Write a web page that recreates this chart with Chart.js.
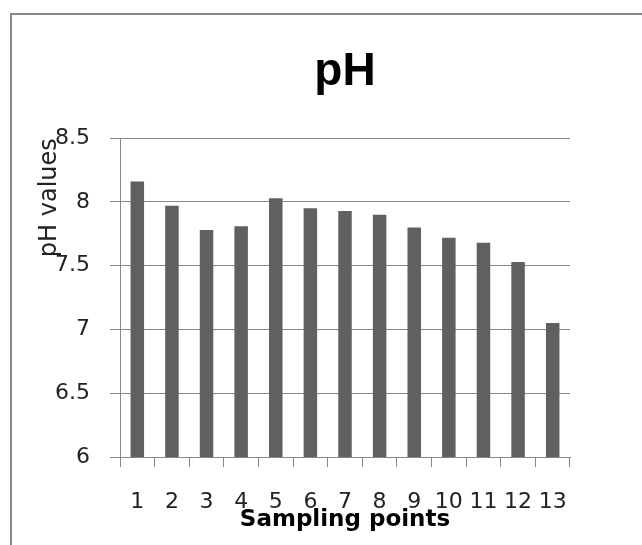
<!DOCTYPE html>
<html>
<head>
<meta charset="utf-8">
<title>pH</title>
<script src="https://cdn.jsdelivr.net/npm/chart.js@4/dist/chart.umd.min.js"></script>
<style>
  html, body { margin: 0; padding: 0; background: #fff; overflow: hidden; }
  #frame {
    position: absolute; left: 10px; top: 13px;
    width: 700px; height: 600px;
    border: 2px solid #888;
  }
  #chart { position: absolute; left: 0; top: 0; }
</style>
</head>
<body>
<div id="frame"></div>
<canvas id="chart" width="642" height="545"></canvas>
<script>
// Sampling points and measured pH
const samplingPoints = ['1', '2', '3', '4', '5', '6', '7', '8', '9', '10', '11', '12', '13'];
const phValues = [8.16, 7.97, 7.78, 7.81, 8.03, 7.95, 7.93, 7.90, 7.80, 7.72, 7.68, 7.53, 7.05];
const yMin = 6;
const yMax = 8.5;
const yStep = 0.5;

const lineGray = '#888888';
const barGray = '#606060';
const textColor = '#222222';

new Chart(document.getElementById('chart'), {
    type: 'bar',
    data: {
        labels: samplingPoints,
        datasets: [{
            label: 'pH',
            data: phValues,
            backgroundColor: barGray,
            borderWidth: 0,
            barPercentage: 0.39,
            categoryPercentage: 1
        }]
    },
    options: {
        responsive: false,
        animation: false,
        layout: { padding: { left: 0, right: 72, top: 0, bottom: 0 } },
        plugins: {
            legend: { display: false },
            tooltip: { enabled: false },
            title: {
                display: true,
                text: 'pH',
                fullSize: false,
                color: '#000',
                font: { family: "'Liberation Sans', Arial, sans-serif", size: 46, weight: 'bold' },
                padding: { top: 45, bottom: 38 }
            }
        },
        scales: {
            x: {
                grid: {
                    offset: true,
                    drawOnChartArea: false,
                    drawTicks: true,
                    tickLength: 10,
                    tickColor: lineGray,
                    lineWidth: 1
                },
                border: { color: lineGray, width: 1 },
                ticks: {
                    color: textColor,
                    padding: 22,
                    maxRotation: 0,
                    autoSkip: false,
                    font: { family: "'DejaVu Sans', sans-serif", size: 22 }
                },
                title: {
                    display: true,
                    text: 'Sampling points',
                    color: '#000',
                    font: { family: "'DejaVu Sans', sans-serif", size: 23, weight: 'bold' },
                    padding: { top: 0, bottom: 11 }
                },
                afterFit: function(scale) { scale.height = 88; }
            },
            y: {
                min: yMin,
                max: yMax,
                ticks: {
                    stepSize: yStep,
                    color: textColor,
                    padding: 20,
                    font: { family: "'DejaVu Sans', sans-serif", size: 22 },
                    // 8 not 8.0, 7.5 stays 7.5
                    callback: function(v) { return String(Math.round(v * 10) / 10); }
                },
                grid: {
                    color: lineGray,
                    lineWidth: 1,
                    tickLength: 10,
                    tickColor: lineGray
                },
                border: { color: lineGray, width: 1 },
                title: {
                    display: true,
                    text: 'pH values',
                    align: 'end',
                    color: textColor,
                    font: { family: "'DejaVu Sans', sans-serif", size: 24 },
                    padding: { top: 35, bottom: 0 }
                },
                afterFit: function(scale) { scale.width = 120; }
            }
        }
    }
});
</script>
</body>
</html>
